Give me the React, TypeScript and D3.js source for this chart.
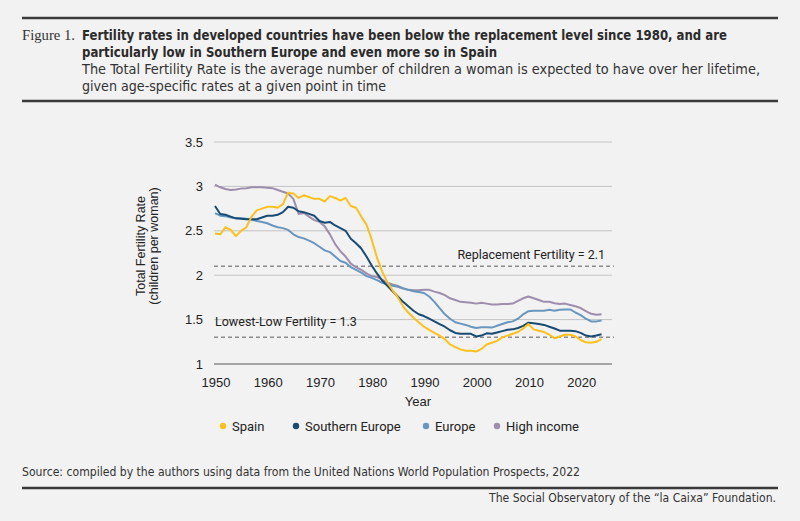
import React, { useEffect, useRef } from 'react';
import * as d3 from 'd3';

const years = d3.range(1950, 2025);

const spain = [
  2.47, 2.46, 2.54, 2.51, 2.44, 2.5, 2.54, 2.66, 2.73, 2.75,
  2.77, 2.77, 2.76, 2.8, 2.93, 2.92, 2.87, 2.9, 2.88, 2.86,
  2.86, 2.83, 2.89, 2.87, 2.84, 2.87, 2.78, 2.76, 2.66, 2.57,
  2.4, 2.2, 2.04, 1.92, 1.83, 1.75, 1.65, 1.58, 1.52, 1.47,
  1.42, 1.385, 1.35, 1.32, 1.28, 1.22, 1.19, 1.165, 1.15, 1.15,
  1.14, 1.17, 1.22, 1.24, 1.26, 1.3, 1.32, 1.34, 1.36, 1.4,
  1.45, 1.39, 1.375, 1.36, 1.33, 1.29, 1.31, 1.33, 1.33, 1.31,
  1.27, 1.245, 1.24, 1.25, 1.28,
];

const southernEurope = [
  2.78, 2.69, 2.68, 2.66, 2.64, 2.635, 2.63, 2.63, 2.63, 2.65,
  2.67, 2.67, 2.68, 2.71, 2.77, 2.76, 2.72, 2.71, 2.69, 2.67,
  2.61, 2.59, 2.6, 2.56, 2.53, 2.5, 2.41, 2.36, 2.3, 2.21,
  2.11, 2.02, 1.94, 1.88, 1.82, 1.76, 1.7, 1.65, 1.6, 1.56,
  1.54, 1.51, 1.48, 1.45, 1.42, 1.38, 1.35, 1.34, 1.34, 1.34,
  1.31, 1.32, 1.345, 1.34, 1.355, 1.37, 1.385, 1.39, 1.405, 1.43,
  1.465, 1.46, 1.45, 1.44, 1.42, 1.4, 1.375, 1.375, 1.375, 1.37,
  1.35, 1.32, 1.31, 1.32, 1.335,
];

const europe = [
  2.7, 2.67, 2.665, 2.65, 2.64, 2.64, 2.635, 2.625, 2.61, 2.6,
  2.585, 2.56, 2.54, 2.53, 2.51, 2.46, 2.43, 2.415, 2.39, 2.36,
  2.32, 2.28, 2.26, 2.21, 2.16, 2.14, 2.09, 2.06, 2.03, 1.99,
  1.97, 1.945, 1.915, 1.895, 1.88, 1.87, 1.85, 1.835, 1.82, 1.81,
  1.8, 1.76, 1.7, 1.63, 1.56, 1.51, 1.47, 1.455, 1.44, 1.42,
  1.405, 1.415, 1.415, 1.41, 1.43, 1.45, 1.47, 1.48, 1.51, 1.56,
  1.595, 1.6, 1.6, 1.6, 1.61, 1.6, 1.61, 1.615, 1.615, 1.58,
  1.55, 1.51, 1.48, 1.48, 1.49,
];

const highIncome = [
  3.02, 2.99, 2.97, 2.96, 2.965, 2.975, 2.98, 2.99, 2.99, 2.99,
  2.985, 2.98, 2.96, 2.94, 2.92, 2.86, 2.69, 2.7, 2.66, 2.62,
  2.6, 2.55, 2.46, 2.35, 2.27, 2.21, 2.13, 2.09, 2.06, 2.02,
  1.99, 1.98, 1.95, 1.915, 1.895, 1.88, 1.855, 1.835, 1.83, 1.83,
  1.835, 1.835, 1.815, 1.8, 1.775, 1.74, 1.72, 1.7, 1.695, 1.69,
  1.68, 1.69, 1.68, 1.67, 1.67, 1.675, 1.675, 1.68, 1.71, 1.74,
  1.76, 1.74, 1.72, 1.7, 1.7, 1.685, 1.675, 1.68, 1.665, 1.65,
  1.63, 1.595, 1.565, 1.555, 1.56,
];

const seriesNames = ['Spain', 'Southern Europe', 'Europe', 'High income'];
const seriesValues = [spain, southernEurope, europe, highIncome];
const seriesColors = ['#FDC11A', '#174B73', '#6896BF', '#9C8EAC'];

const yTicks = [1, 1.5, 2, 2.5, 3, 3.5];
const xTicks = [1950, 1960, 1970, 1980, 1990, 2000, 2010, 2020];

const replacementLevel = 2.1;
const lowestLowLevel = 1.3;

const titleLines = [
  'Fertility rates in developed countries have been below the replacement level since 1980, and are',
  'particularly low in Southern Europe and even more so in Spain',
];
const subtitleLines = [
  'The Total Fertility Rate is the average number of children a woman is expected to have over her lifetime,',
  'given age-specific rates at a given point in time',
];

const W = 800;
const H = 521;

export default function App() {
  const svgRef = useRef<SVGSVGElement>(null);

  useEffect(() => {
    if (!svgRef.current) return;
    const svg = d3.select(svgRef.current);
    svg.selectAll('*').remove();

    const condensed = '"Liberation Sans Narrow", "DejaVu Sans Condensed", "Roboto", sans-serif';
    const plain = '"Liberation Sans", Arial, sans-serif';
    const roboto = 'Roboto, "Liberation Sans", sans-serif';

    svg.append('rect').attr('width', W).attr('height', H).attr('fill', '#F2F2F2');

    // header
    svg.append('line').attr('x1', 22).attr('x2', 778).attr('y1', 18).attr('y2', 18)
      .attr('stroke', '#3a3a3a').attr('stroke-width', 2.5);
    svg.append('line').attr('x1', 22).attr('x2', 778).attr('y1', 101).attr('y2', 101)
      .attr('stroke', '#3a3a3a').attr('stroke-width', 2.5);

    svg.append('text').attr('x', 22).attr('y', 40)
      .attr('textLength', 53).attr('lengthAdjust', 'spacingAndGlyphs')
      .style('font-family', '"Liberation Serif", "DejaVu Serif", serif')
      .style('font-size', '14px').attr('fill', '#333')
      .text('Figure 1.');

    const titleWidths = [645, 415];
    titleLines.forEach((t, i) => {
      svg.append('text').attr('x', 82).attr('y', 40 + i * 17)
        .attr('textLength', titleWidths[i]).attr('lengthAdjust', 'spacingAndGlyphs')
        .style('font-family', condensed).style('font-weight', 700)
        .style('font-size', '14.5px').attr('fill', '#2b2b2b')
        .text(t);
    });

    const subWidths = [678, 304];
    subtitleLines.forEach((t, i) => {
      svg.append('text').attr('x', 82).attr('y', 74 + i * 16.5)
        .attr('textLength', subWidths[i]).attr('lengthAdjust', 'spacingAndGlyphs')
        .style('font-family', condensed)
        .style('font-size', '14.5px').attr('fill', '#333')
        .text(t);
    });

    // footer
    svg.append('text').attr('x', 22).attr('y', 476)
      .attr('textLength', 558).attr('lengthAdjust', 'spacingAndGlyphs')
      .style('font-family', condensed).style('font-size', '13px').attr('fill', '#333')
      .text('Source: compiled by the authors using data from the United Nations World Population Prospects, 2022');
    svg.append('line').attr('x1', 22).attr('x2', 778).attr('y1', 488).attr('y2', 488)
      .attr('stroke', '#3a3a3a').attr('stroke-width', 2.5);
    svg.append('text').attr('x', 776).attr('y', 502).attr('text-anchor', 'end')
      .attr('textLength', 287).attr('lengthAdjust', 'spacingAndGlyphs')
      .style('font-family', condensed).style('font-size', '13px').attr('fill', '#333')
      .text('The Social Observatory of the \u201Cla Caixa\u201D Foundation.');

    // chart
    const x = d3.scaleLinear().domain([1950, 2026]).range([215, 612]);
    const y = d3.scaleLinear().domain([1, 3.5]).range([364, 142]);

    const grid = svg.append('g');
    yTicks.forEach((v) => {
      grid.append('line').attr('x1', 214).attr('x2', 612).attr('y1', y(v)).attr('y2', y(v))
        .attr('stroke', v === 1 ? '#8a8a8a' : '#c4c4c4').attr('stroke-width', v === 1 ? 1.5 : 1);
      grid.append('text').attr('x', 203).attr('y', y(v)).attr('dy', '0.35em')
        .attr('text-anchor', 'end').style('font-family', plain).style('font-size', '13px')
        .attr('fill', '#222').text(String(v));
    });

    xTicks.forEach((yr) => {
      grid.append('text').attr('x', x(yr) + 1).attr('y', 387).attr('text-anchor', 'middle')
        .style('font-family', plain).style('font-size', '13px').attr('fill', '#222')
        .text(String(yr));
    });

    svg.append('text').attr('x', 418).attr('y', 406).attr('text-anchor', 'middle')
      .style('font-family', plain).style('font-size', '13px').attr('fill', '#222').text('Year');

    const yl = svg.append('text').attr('transform', 'translate(145,246) rotate(-90)')
      .attr('text-anchor', 'middle').style('font-family', plain).style('font-size', '12.5px').attr('fill', '#222');
    yl.append('tspan').attr('x', 0).attr('dy', 0).text('Total Fertility Rate');
    yl.append('tspan').attr('x', 0).attr('dy', 13).text('(children per woman)');

    // reference lines
    [replacementLevel, lowestLowLevel].forEach((v) => {
      svg.append('line').attr('x1', 214).attr('x2', 614).attr('y1', y(v)).attr('y2', y(v))
        .attr('stroke', '#8c8c8c').attr('stroke-width', 1.5).attr('stroke-dasharray', '4,3');
    });
    svg.append('text').attr('x', 605).attr('y', y(replacementLevel) - 7).attr('text-anchor', 'end')
      .style('font-family', roboto).style('font-size', '12.5px').attr('fill', '#222')
      .text('Replacement Fertility = 2.1');
    svg.append('text').attr('x', 215).attr('y', y(lowestLowLevel) - 11)
      .style('font-family', roboto).style('font-size', '12.5px').attr('fill', '#222')
      .text('Lowest-Low Fertility = 1.3');

    const line = d3.line<number>()
      .x((_, i) => x(years[i]))
      .y((d) => y(d));

    // draw back to front so Spain sits on top
    [3, 2, 1, 0].forEach((k) => {
      svg.append('path').datum(seriesValues[k]).attr('d', line)
        .attr('fill', 'none').attr('stroke', seriesColors[k]).attr('stroke-width', 2)
        .attr('stroke-linejoin', 'round');
    });

    // legend
    const legendX = [223, 296, 426, 497];
    seriesNames.forEach((name, i) => {
      const g = svg.append('g').attr('transform', `translate(${legendX[i]},426)`);
      g.append('circle').attr('r', 3.2).attr('fill', seriesColors[i]);
      g.append('text').attr('x', 9).attr('dy', '0.35em')
        .style('font-family', roboto).style('font-size', '13px').attr('fill', '#222').text(name);
    });
  }, []);

  return (
    <svg ref={svgRef} width={W} height={H}
      style={{ position: 'absolute', left: 0, top: 0, display: 'block' }} />
  );
}
